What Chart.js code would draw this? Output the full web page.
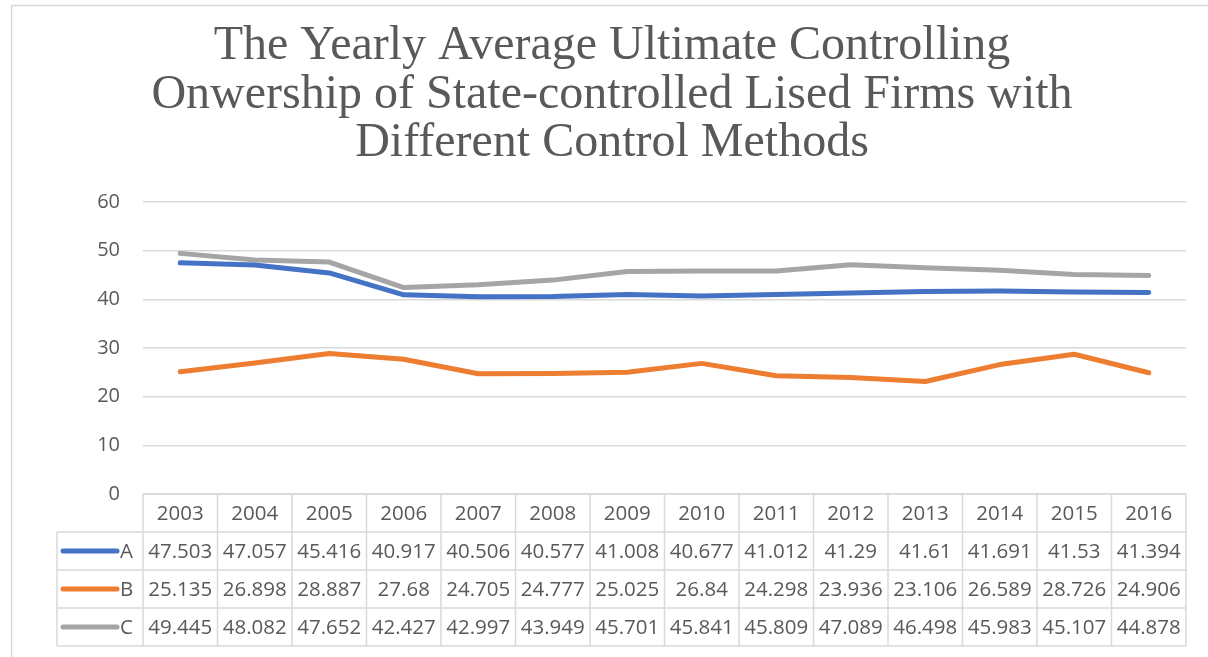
<!DOCTYPE html>
<html>
<head>
<meta charset="utf-8">
<script src="https://cdn.jsdelivr.net/npm/chart.js@4/dist/chart.umd.min.js"></script>
<style>
  html, body { margin: 0; padding: 0; background: #ffffff; }
  #wrap { width: 1208px; height: 657px; position: relative; }
</style>
</head>
<body>
<div id="wrap"><canvas id="chart" width="1208" height="657"></canvas></div>
<script>
// Years shown along the category axis and in the table header
const years = ['2003','2004','2005','2006','2007','2008','2009','2010','2011','2012','2013','2014','2015','2016'];

// Series values (table text uses these same numbers)
const seriesA = [47.503, 47.057, 45.416, 40.917, 40.506, 40.577, 41.008, 40.677, 41.012, 41.29, 41.61, 41.691, 41.53, 41.394];
const seriesB = [25.135, 26.898, 28.887, 27.68, 24.705, 24.777, 25.025, 26.84, 24.298, 23.936, 23.106, 26.589, 28.726, 24.906];
const seriesC = [49.445, 48.082, 47.652, 42.427, 42.997, 43.949, 45.701, 45.841, 45.809, 47.089, 46.498, 45.983, 45.107, 44.878];

const seriesNames = ['A', 'B', 'C'];
const seriesColors = ['#4472C4', '#ED7D31', '#A5A5A5'];

const titleLines = [
  'The Yearly Average Ultimate Controlling',
  'Onwership of State-controlled Lised Firms with',
  'Different Control Methods'
];

const TEXT = '#595959';
const GRID = '#d9d9d9';
const SANS = '"Open Sans", "Noto Sans", sans-serif';

// Outer frame, white background and the three-line title
const framePlugin = {
  id: 'frame',
  beforeDraw(chart) {
    const ctx = chart.ctx;
    ctx.save();
    ctx.fillStyle = '#ffffff';
    ctx.fillRect(0, 0, chart.width, chart.height);
    ctx.strokeStyle = GRID;
    ctx.lineWidth = 1.5;
    ctx.strokeRect(11.5, 5.5, chart.width + 20, chart.height + 20);

    ctx.fillStyle = TEXT;
    ctx.font = '48px "Liberation Serif", "Times New Roman", serif';
    ctx.textAlign = 'center';
    ctx.textBaseline = 'alphabetic';
    titleLines.forEach((line, i) => {
      ctx.fillText(line, 612, 59 + i * 48.5);
    });
    ctx.restore();
  }
};

// Data table under the plot, aligned with the category axis
const dataTablePlugin = {
  id: 'dataTable',
  afterDraw(chart) {
    const ctx = chart.ctx;
    const x = chart.scales.x;
    const area = chart.chartArea;
    const rowH = 38;
    const top = area.bottom;
    const n = years.length;
    const step = x.getPixelForValue(1) - x.getPixelForValue(0);
    const left = x.getPixelForValue(0) - step / 2;
    const right = x.getPixelForValue(n - 1) + step / 2;
    const legendLeft = 57;
    const datasets = chart.data.datasets;
    const bottom = top + rowH * (datasets.length + 1);

    ctx.save();
    ctx.strokeStyle = GRID;
    ctx.lineWidth = 1.5;

    // horizontal lines
    ctx.beginPath();
    ctx.moveTo(left, top); ctx.lineTo(right, top);
    for (let r = 1; r <= datasets.length + 1; r++) {
      const y = top + rowH * r;
      ctx.moveTo(legendLeft, y); ctx.lineTo(right, y);
    }
    // vertical lines
    for (let i = 0; i <= n; i++) {
      const vx = left + step * i;
      ctx.moveTo(vx, top); ctx.lineTo(vx, bottom);
    }
    ctx.moveTo(legendLeft, top + rowH); ctx.lineTo(legendLeft, bottom);
    ctx.stroke();

    // header years
    ctx.fillStyle = TEXT;
    ctx.font = '20.5px ' + SANS;
    ctx.textAlign = 'center';
    ctx.textBaseline = 'middle';
    years.forEach((yr, i) => {
      ctx.fillText(yr, x.getPixelForValue(i), top + rowH / 2 + 1);
    });

    // series rows
    datasets.forEach((ds, r) => {
      const cy = top + rowH * (r + 1) + rowH / 2 + 1;
      // legend key
      ctx.strokeStyle = ds.borderColor;
      ctx.lineWidth = 5;
      ctx.lineCap = 'round';
      ctx.beginPath();
      ctx.moveTo(63, cy - 1); ctx.lineTo(117, cy - 1);
      ctx.stroke();
      ctx.fillStyle = TEXT;
      ctx.textAlign = 'left';
      ctx.fillText(ds.label, 120, cy);
      ctx.textAlign = 'center';
      ds.data.forEach((v, i) => {
        ctx.fillText(String(v), x.getPixelForValue(i), cy);
      });
    });
    ctx.restore();
  }
};

const makeSet = (label, data, color) => ({
  label: label,
  data: data,
  borderColor: color,
  backgroundColor: color,
  borderWidth: 5,
  pointRadius: 0,
  pointHoverRadius: 0,
  tension: 0,
  borderCapStyle: 'round',
  borderJoinStyle: 'round',
  fill: false
});

new Chart(document.getElementById('chart'), {
  type: 'line',
  data: {
    labels: years,
    datasets: [
      makeSet(seriesNames[0], seriesA, seriesColors[0]),
      makeSet(seriesNames[1], seriesB, seriesColors[1]),
      makeSet(seriesNames[2], seriesC, seriesColors[2])
    ]
  },
  options: {
    responsive: false,
    animation: false,
    events: [],
    layout: { padding: { left: 0, right: 22, top: 202, bottom: 163 } },
    plugins: {
      legend: { display: false },
      tooltip: { enabled: false },
      title: { display: false }
    },
    scales: {
      x: {
        type: 'category',
        display: false,
        offset: true,
        afterFit(scale) { scale.height = 0; }
      },
      y: {
        min: 0,
        max: 60,
        border: { display: false },
        grid: { color: GRID, lineWidth: 1.5, drawTicks: false },
        ticks: {
          stepSize: 10,
          color: TEXT,
          padding: 23,
          font: { family: SANS, size: 20 }
        },
        afterFit(scale) { scale.width = 143; }
      }
    }
  },
  plugins: [framePlugin, dataTablePlugin]
});
</script>
</body>
</html>
